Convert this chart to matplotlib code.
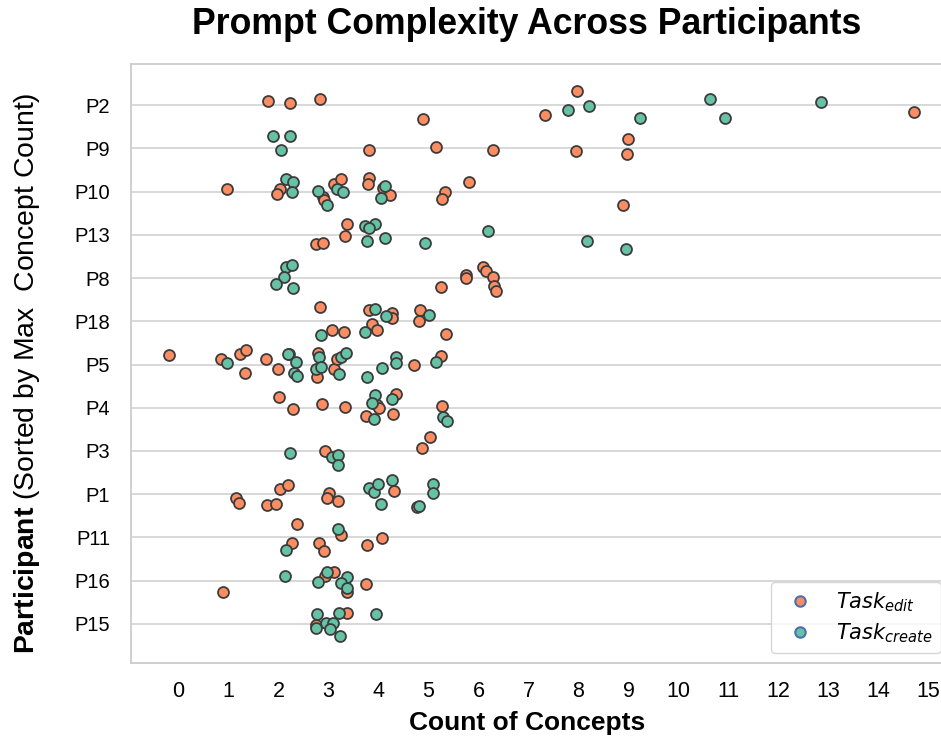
import matplotlib
matplotlib.use("Agg")
import matplotlib.pyplot as plt
from matplotlib.lines import Line2D

# participants, top to bottom (sorted by max concept count)
participants = ["P2", "P9", "P10", "P13", "P8", "P18", "P5", "P4", "P3", "P1", "P11", "P16", "P15"]

# jittered positions: x = concept count, dy = offset from the row
edit_x = {
    "P2": [1.78, 2.22, 2.82, 4.89, 7.97, 7.33, 14.71],
    "P9": [3.81, 5.14, 6.29, 8.98, 7.95, 8.97],
    "P10": [0.97, 2.03, 1.96, 2.89, 2.91, 3.11, 3.25, 3.80, 3.78, 4.08, 4.23, 5.33, 5.27, 5.81, 8.89],
    "P13": [3.36, 3.33, 2.75, 2.89],
    "P8": [5.25, 5.74, 5.74, 6.09, 6.14, 6.29, 6.30, 6.34],
    "P18": [2.82, 3.81, 4.27, 4.27, 4.83, 4.80, 3.86, 3.97, 3.06, 3.31, 5.35],
    "P5": [-0.19, 0.84, 1.22, 1.34, 1.32, 1.75, 1.99, 2.20, 2.78, 2.77, 3.11, 3.17, 4.71, 5.25],
    "P4": [2.01, 2.29, 2.86, 3.32, 3.97, 4.00, 3.74, 4.35, 4.29, 5.27],
    "P3": [5.03, 4.87, 2.92],
    "P1": [1.15, 1.20, 1.76, 1.94, 2.03, 2.19, 3.01, 2.97, 3.19, 4.30, 4.76],
    "P11": [2.36, 2.27, 3.25, 2.81, 2.91, 3.76, 4.07],
    "P16": [0.89, 3.10, 2.93, 3.36, 3.75],
    "P15": [3.37, 2.75],
}
edit_dy = {
    "P2": [-0.09, -0.04, -0.13, 0.32, -0.32, 0.22, 0.15],
    "P9": [0.05, -0.02, 0.05, -0.21, 0.06, 0.12],
    "P10": [-0.06, -0.07, 0.06, 0.12, 0.20, -0.17, -0.29, -0.31, -0.17, -0.08, 0.08, 0.00, 0.17, -0.23, 0.30],
    "P13": [-0.24, 0.03, 0.21, 0.18],
    "P8": [0.20, -0.07, 0.00, -0.26, -0.16, -0.03, 0.18, 0.30],
    "P18": [-0.33, -0.25, -0.18, -0.08, -0.25, -0.01, 0.07, 0.20, 0.21, 0.25, 0.29],
    "P5": [-0.23, -0.13, -0.24, -0.33, 0.19, -0.12, 0.10, -0.25, -0.26, 0.28, 0.11, -0.13, 0.00, -0.20],
    "P4": [-0.26, 0.02, -0.09, -0.01, -0.06, 0.00, 0.19, -0.32, 0.14, -0.03],
    "P3": [-0.33, -0.07, -0.01],
    "P1": [0.09, 0.21, 0.26, 0.22, -0.11, -0.21, -0.03, 0.08, 0.15, -0.08, 0.29],
    "P11": [-0.32, 0.12, -0.06, 0.12, 0.31, 0.17, 0.01],
    "P16": [0.27, -0.20, -0.12, 0.26, 0.08],
    "P15": [-0.25, 0.02],
}
create_x = {
    "P2": [7.79, 8.21, 9.23, 10.62, 10.93, 12.85],
    "P9": [1.89, 2.22, 2.05],
    "P10": [2.14, 2.29, 2.27, 2.79, 2.97, 3.17, 3.28, 4.12, 4.05],
    "P13": [3.72, 3.93, 3.81, 4.13, 3.76, 4.93, 6.19, 8.17, 8.94],
    "P8": [2.15, 2.26, 2.11, 1.95, 2.29],
    "P18": [3.92, 4.14, 5.00, 3.72, 2.85],
    "P5": [0.96, 2.19, 2.35, 2.30, 2.37, 2.81, 2.75, 2.84, 3.21, 3.25, 3.35, 3.76, 4.07, 4.35, 4.35, 5.15],
    "P4": [3.92, 3.86, 3.91, 4.27, 5.28, 5.36],
    "P3": [2.23, 3.06, 3.19, 3.19],
    "P1": [3.81, 3.91, 3.99, 4.27, 4.05, 4.81, 5.08, 5.09],
    "P11": [2.15, 3.18],
    "P16": [2.13, 2.97, 2.79, 3.37, 3.24, 3.37],
    "P15": [2.76, 3.21, 3.95, 2.75, 2.95, 3.08, 3.03, 3.23],
}
create_dy = {
    "P2": [0.11, 0.02, 0.30, -0.14, 0.31, -0.06],
    "P9": [-0.28, -0.28, 0.04],
    "P10": [-0.29, -0.21, 0.00, -0.01, 0.31, -0.06, 0.01, -0.14, 0.14],
    "P13": [-0.20, -0.24, -0.16, 0.07, 0.14, 0.18, -0.08, 0.14, 0.32],
    "P8": [-0.26, -0.29, -0.02, 0.13, 0.24],
    "P18": [-0.28, -0.12, -0.15, 0.25, 0.32],
    "P5": [-0.03, -0.25, -0.06, 0.20, 0.27, -0.18, 0.11, 0.06, 0.23, -0.18, -0.26, 0.30, 0.09, -0.18, -0.03, -0.05],
    "P4": [-0.29, -0.12, 0.26, -0.21, 0.22, 0.30],
    "P3": [0.04, 0.15, 0.10, 0.32],
    "P1": [-0.15, -0.05, -0.23, -0.32, 0.23, 0.28, -0.23, -0.02],
    "P11": [0.29, -0.20],
    "P16": [-0.12, -0.20, 0.02, -0.08, 0.06, 0.18],
    "P15": [-0.22, -0.26, -0.22, 0.09, -0.02, -0.03, 0.11, 0.27],
}
x_ticks = list(range(0, 16))

edit_color = "#fc8d62"
create_color = "#66c2a5"

plt.rcParams["font.family"] = ["Liberation Sans", "DejaVu Sans"]
plt.rcParams["mathtext.fontset"] = "custom"
plt.rcParams["mathtext.bf"] = "Liberation Sans:bold"
plt.rcParams["mathtext.rm"] = "DejaVu Sans"
plt.rcParams["mathtext.it"] = "DejaVu Sans:italic"

fig = plt.figure(figsize=(9.41, 7.4), dpi=100)
ax = fig.add_axes([131 / 941, 76.7 / 740, 820 / 941, 599.3 / 740])

for xs, dys, color in [(edit_x, edit_dy, edit_color), (create_x, create_dy, create_color)]:
    for i, p in enumerate(participants):
        ys = [i + d for d in dys[p]]
        ax.scatter(xs[p], ys, s=62, color=color, edgecolor="#3c3c3c", linewidth=1.3, zorder=3)

ax.set_xlim(-0.95, 15.45)
ax.set_ylim(len(participants) - 0.09, -0.95)
ax.set_xticks(x_ticks)
ax.set_yticks(range(len(participants)))
ax.set_yticklabels(participants)
ax.tick_params(axis="x", length=0, pad=13, labelsize=15.5)
ax.tick_params(axis="y", length=0, pad=15, labelsize=14.5)

ax.grid(axis="y", color="#d2d2d2", linewidth=1.2, zorder=0)
ax.set_axisbelow(True)
for s in ax.spines.values():
    s.set_color("#cccccc")
    s.set_linewidth(1.3)

ax.set_xlabel("Count of Concepts", fontsize=19, fontweight="bold")
ax.xaxis.set_label_coords(0.483, -0.08)
ax.set_ylabel(r"$\bf{Participant}$ (Sorted by Max  Concept Count)", fontsize=20.4)
ax.yaxis.set_label_coords(-0.109, 0.484)

fig.text(527 / 941, 1 - 25 / 740, "Prompt Complexity Across Participants",
         ha="center", va="center", fontsize=25.7, fontweight="bold")

handles = [
    Line2D([], [], marker="o", linestyle="", markersize=7.5, markerfacecolor=edit_color,
           markeredgecolor="#4c6fb0", markeredgewidth=1.5, label=r"$Task_{edit}$"),
    Line2D([], [], marker="o", linestyle="", markersize=7.5, markerfacecolor=create_color,
           markeredgecolor="#4c6fb0", markeredgewidth=1.5, label=r"$Task_{create}$"),
]
ax.legend(handles=handles, loc="lower right", fontsize=15, labelspacing=0.35, handletextpad=0.7)

fig.savefig("out.png", dpi=100)
